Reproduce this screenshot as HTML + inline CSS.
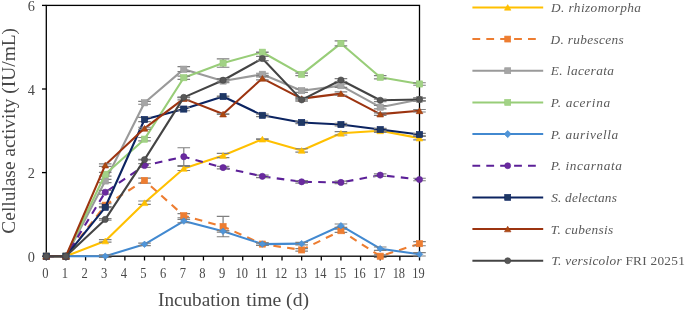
<!DOCTYPE html>
<html><head><meta charset="utf-8"><style>
html,body{margin:0;padding:0;background:#fff;}
body{width:685px;height:311px;overflow:hidden;}
svg{display:block;will-change:transform;}
text{font-family:"Liberation Serif",serif;}
</style></head><body>
<svg width="685" height="311" viewBox="0 0 685 311">
<rect width="685" height="311" fill="#fff"/>
<g stroke="#000" stroke-width="1.3" fill="none">
<rect x="46.30" y="5.4" width="373.20" height="250.80"/>
<line x1="42" y1="256.20" x2="46.30" y2="256.20"/>
<line x1="42" y1="172.60" x2="46.30" y2="172.60"/>
<line x1="42" y1="89.00" x2="46.30" y2="89.00"/>
<line x1="42" y1="5.40" x2="46.30" y2="5.40"/>
<line x1="46.30" y1="256.20" x2="46.30" y2="260.50"/>
<line x1="65.94" y1="256.20" x2="65.94" y2="260.50"/>
<line x1="85.58" y1="256.20" x2="85.58" y2="260.50"/>
<line x1="105.23" y1="256.20" x2="105.23" y2="260.50"/>
<line x1="124.87" y1="256.20" x2="124.87" y2="260.50"/>
<line x1="144.51" y1="256.20" x2="144.51" y2="260.50"/>
<line x1="164.15" y1="256.20" x2="164.15" y2="260.50"/>
<line x1="183.79" y1="256.20" x2="183.79" y2="260.50"/>
<line x1="203.44" y1="256.20" x2="203.44" y2="260.50"/>
<line x1="223.08" y1="256.20" x2="223.08" y2="260.50"/>
<line x1="242.72" y1="256.20" x2="242.72" y2="260.50"/>
<line x1="262.36" y1="256.20" x2="262.36" y2="260.50"/>
<line x1="282.01" y1="256.20" x2="282.01" y2="260.50"/>
<line x1="301.65" y1="256.20" x2="301.65" y2="260.50"/>
<line x1="321.29" y1="256.20" x2="321.29" y2="260.50"/>
<line x1="340.93" y1="256.20" x2="340.93" y2="260.50"/>
<line x1="360.57" y1="256.20" x2="360.57" y2="260.50"/>
<line x1="380.22" y1="256.20" x2="380.22" y2="260.50"/>
<line x1="399.86" y1="256.20" x2="399.86" y2="260.50"/>
<line x1="419.50" y1="256.20" x2="419.50" y2="260.50"/>
</g>
<g fill="#484848" font-size="14.3" text-anchor="middle">
<text x="45.30" y="278" textLength="6.3" lengthAdjust="spacingAndGlyphs">0</text>
<text x="64.94" y="278" textLength="6.3" lengthAdjust="spacingAndGlyphs">1</text>
<text x="84.58" y="278" textLength="6.3" lengthAdjust="spacingAndGlyphs">2</text>
<text x="104.23" y="278" textLength="6.3" lengthAdjust="spacingAndGlyphs">3</text>
<text x="123.87" y="278" textLength="6.3" lengthAdjust="spacingAndGlyphs">4</text>
<text x="143.51" y="278" textLength="6.3" lengthAdjust="spacingAndGlyphs">5</text>
<text x="163.15" y="278" textLength="6.3" lengthAdjust="spacingAndGlyphs">6</text>
<text x="182.79" y="278" textLength="6.3" lengthAdjust="spacingAndGlyphs">7</text>
<text x="202.44" y="278" textLength="6.3" lengthAdjust="spacingAndGlyphs">8</text>
<text x="222.08" y="278" textLength="6.3" lengthAdjust="spacingAndGlyphs">9</text>
<text x="241.72" y="278" textLength="12.4" lengthAdjust="spacingAndGlyphs">10</text>
<text x="261.36" y="278" textLength="12.4" lengthAdjust="spacingAndGlyphs">11</text>
<text x="281.01" y="278" textLength="12.4" lengthAdjust="spacingAndGlyphs">12</text>
<text x="300.65" y="278" textLength="12.4" lengthAdjust="spacingAndGlyphs">13</text>
<text x="320.29" y="278" textLength="12.4" lengthAdjust="spacingAndGlyphs">14</text>
<text x="339.93" y="278" textLength="12.4" lengthAdjust="spacingAndGlyphs">15</text>
<text x="359.57" y="278" textLength="12.4" lengthAdjust="spacingAndGlyphs">16</text>
<text x="379.22" y="278" textLength="12.4" lengthAdjust="spacingAndGlyphs">17</text>
<text x="398.86" y="278" textLength="12.4" lengthAdjust="spacingAndGlyphs">18</text>
<text x="418.50" y="278" textLength="12.4" lengthAdjust="spacingAndGlyphs">19</text>
</g>
<g fill="#484848" font-size="14.3" text-anchor="end">
<text x="35" y="261.80">0</text>
<text x="35" y="178.20">2</text>
<text x="35" y="94.60">4</text>
<text x="35" y="11.00">6</text>
</g>
<text x="158" y="306" font-size="19.2" fill="#484848">Incubation</text>
<text x="246.2" y="306" font-size="19.7" fill="#484848">time (d)</text>
<text transform="translate(15.3 130.8) rotate(-90)" font-size="19.4" fill="#484848" text-anchor="middle">Cellulase activity (IU/mL)</text>
<polyline points="46.30,256.20 65.94,256.20 105.23,240.94 144.51,202.70 183.79,168.42 223.08,155.46 262.36,139.16 301.65,150.45 340.93,133.31 380.22,130.80 419.50,138.12" fill="none" stroke="#FFC000" stroke-width="2.1" stroke-linejoin="round"/>
<path d="M105.23 239.69V242.20M98.93 239.69H111.53M98.93 242.20H111.53M144.51 201.02V204.37M138.21 201.02H150.81M138.21 204.37H150.81M183.79 166.33V170.51M177.49 166.33H190.09M177.49 170.51H190.09M223.08 153.37V157.55M216.78 153.37H229.38M216.78 157.55H229.38M262.36 138.95V139.37M256.06 138.95H268.66M256.06 139.37H268.66M301.65 148.77V152.12M295.35 148.77H307.95M295.35 152.12H307.95M340.93 131.64V134.98M334.63 131.64H347.23M334.63 134.98H347.23M380.22 129.13V132.47M373.92 129.13H386.52M373.92 132.47H386.52M419.50 136.44V139.79M413.20 136.44H425.80M413.20 139.79H425.80" stroke="#7F7F7F" stroke-width="1.2" fill="none"/>
<path d="M46.30 253.30L49.67 259.10L42.93 259.10Z" fill="#FFC000" stroke="#FFC000" stroke-width="0.6" stroke-linejoin="round"/>
<path d="M65.94 253.30L69.31 259.10L62.57 259.10Z" fill="#FFC000" stroke="#FFC000" stroke-width="0.6" stroke-linejoin="round"/>
<path d="M105.23 238.05L108.60 243.84L101.85 243.84Z" fill="#FFC000" stroke="#FFC000" stroke-width="0.6" stroke-linejoin="round"/>
<path d="M144.51 199.80L147.88 205.59L141.14 205.59Z" fill="#FFC000" stroke="#FFC000" stroke-width="0.6" stroke-linejoin="round"/>
<path d="M183.79 165.52L187.17 171.32L180.42 171.32Z" fill="#FFC000" stroke="#FFC000" stroke-width="0.6" stroke-linejoin="round"/>
<path d="M223.08 152.57L226.45 158.36L219.71 158.36Z" fill="#FFC000" stroke="#FFC000" stroke-width="0.6" stroke-linejoin="round"/>
<path d="M262.36 136.26L265.74 142.06L258.99 142.06Z" fill="#FFC000" stroke="#FFC000" stroke-width="0.6" stroke-linejoin="round"/>
<path d="M301.65 147.55L305.02 153.34L298.28 153.34Z" fill="#FFC000" stroke="#FFC000" stroke-width="0.6" stroke-linejoin="round"/>
<path d="M340.93 130.41L344.30 136.20L337.56 136.20Z" fill="#FFC000" stroke="#FFC000" stroke-width="0.6" stroke-linejoin="round"/>
<path d="M380.22 127.90L383.59 133.70L376.84 133.70Z" fill="#FFC000" stroke="#FFC000" stroke-width="0.6" stroke-linejoin="round"/>
<path d="M419.50 135.22L422.87 141.01L416.13 141.01Z" fill="#FFC000" stroke="#FFC000" stroke-width="0.6" stroke-linejoin="round"/>
<polyline points="46.30,256.20 65.94,256.20 105.23,205.20 144.51,180.54 183.79,215.65 223.08,226.52 262.36,244.08 301.65,249.93 340.93,230.70 380.22,256.20 419.50,243.66" fill="none" stroke="#ED7D31" stroke-width="2.1" stroke-linejoin="round" stroke-dasharray="7.6 6.3"/>
<path d="M105.23 203.74V206.67M98.93 203.74H111.53M98.93 206.67H111.53M144.51 178.03V183.05M138.21 178.03H150.81M138.21 183.05H150.81M183.79 213.56V217.74M177.49 213.56H190.09M177.49 217.74H190.09M223.08 216.28V236.76M216.78 216.28H229.38M216.78 236.76H229.38M262.36 242.82V245.33M256.06 242.82H268.66M256.06 245.33H268.66M301.65 248.68V251.18M295.35 248.68H307.95M295.35 251.18H307.95M340.93 229.03V232.37M334.63 229.03H347.23M334.63 232.37H347.23M380.22 254.95V257.45M373.92 254.95H386.52M373.92 257.45H386.52M419.50 241.57V245.75M413.20 241.57H425.80M413.20 245.75H425.80" stroke="#7F7F7F" stroke-width="1.2" fill="none"/>
<rect x="43.20" y="253.10" width="6.20" height="6.20" fill="#ED7D31" stroke="#ED7D31" stroke-width="0.6"/>
<rect x="62.84" y="253.10" width="6.20" height="6.20" fill="#ED7D31" stroke="#ED7D31" stroke-width="0.6"/>
<rect x="102.13" y="202.10" width="6.20" height="6.20" fill="#ED7D31" stroke="#ED7D31" stroke-width="0.6"/>
<rect x="141.41" y="177.44" width="6.20" height="6.20" fill="#ED7D31" stroke="#ED7D31" stroke-width="0.6"/>
<rect x="180.69" y="212.55" width="6.20" height="6.20" fill="#ED7D31" stroke="#ED7D31" stroke-width="0.6"/>
<rect x="219.98" y="223.42" width="6.20" height="6.20" fill="#ED7D31" stroke="#ED7D31" stroke-width="0.6"/>
<rect x="259.26" y="240.98" width="6.20" height="6.20" fill="#ED7D31" stroke="#ED7D31" stroke-width="0.6"/>
<rect x="298.55" y="246.83" width="6.20" height="6.20" fill="#ED7D31" stroke="#ED7D31" stroke-width="0.6"/>
<rect x="337.83" y="227.60" width="6.20" height="6.20" fill="#ED7D31" stroke="#ED7D31" stroke-width="0.6"/>
<rect x="377.12" y="253.10" width="6.20" height="6.20" fill="#ED7D31" stroke="#ED7D31" stroke-width="0.6"/>
<rect x="416.40" y="240.56" width="6.20" height="6.20" fill="#ED7D31" stroke="#ED7D31" stroke-width="0.6"/>
<polyline points="46.30,256.20 65.94,256.20 105.23,180.96 144.51,102.79 183.79,69.15 223.08,81.06 262.36,74.29 301.65,90.67 340.93,85.66 380.22,107.18 419.50,99.45" fill="none" stroke="#9A9A9A" stroke-width="2.1" stroke-linejoin="round"/>
<path d="M105.23 179.29V182.63M98.93 179.29H111.53M98.93 182.63H111.53M144.51 101.33V104.26M138.21 101.33H150.81M138.21 104.26H150.81M183.79 66.64V71.65M177.49 66.64H190.09M177.49 71.65H190.09M223.08 79.39V82.73M216.78 79.39H229.38M216.78 82.73H229.38M262.36 73.24V75.33M256.06 73.24H268.66M256.06 75.33H268.66M301.65 89.00V92.34M295.35 89.00H307.95M295.35 92.34H307.95M340.93 83.98V87.33M334.63 83.98H347.23M334.63 87.33H347.23M380.22 105.51V108.85M373.92 105.51H386.52M373.92 108.85H386.52M419.50 97.78V101.12M413.20 97.78H425.80M413.20 101.12H425.80" stroke="#7F7F7F" stroke-width="1.2" fill="none"/>
<rect x="43.20" y="253.10" width="6.20" height="6.20" fill="#A5A5A5" stroke="#9A9A9A" stroke-width="0.6"/>
<rect x="62.84" y="253.10" width="6.20" height="6.20" fill="#A5A5A5" stroke="#9A9A9A" stroke-width="0.6"/>
<rect x="102.13" y="177.86" width="6.20" height="6.20" fill="#A5A5A5" stroke="#9A9A9A" stroke-width="0.6"/>
<rect x="141.41" y="99.69" width="6.20" height="6.20" fill="#A5A5A5" stroke="#9A9A9A" stroke-width="0.6"/>
<rect x="180.69" y="66.05" width="6.20" height="6.20" fill="#A5A5A5" stroke="#9A9A9A" stroke-width="0.6"/>
<rect x="219.98" y="77.96" width="6.20" height="6.20" fill="#A5A5A5" stroke="#9A9A9A" stroke-width="0.6"/>
<rect x="259.26" y="71.19" width="6.20" height="6.20" fill="#A5A5A5" stroke="#9A9A9A" stroke-width="0.6"/>
<rect x="298.55" y="87.57" width="6.20" height="6.20" fill="#A5A5A5" stroke="#9A9A9A" stroke-width="0.6"/>
<rect x="337.83" y="82.56" width="6.20" height="6.20" fill="#A5A5A5" stroke="#9A9A9A" stroke-width="0.6"/>
<rect x="377.12" y="104.08" width="6.20" height="6.20" fill="#A5A5A5" stroke="#9A9A9A" stroke-width="0.6"/>
<rect x="416.40" y="96.35" width="6.20" height="6.20" fill="#A5A5A5" stroke="#9A9A9A" stroke-width="0.6"/>
<polyline points="46.30,256.20 65.94,256.20 105.23,174.27 144.51,139.16 183.79,77.71 223.08,63.08 262.36,52.22 301.65,74.37 340.93,43.44 380.22,77.30 419.50,83.98" fill="none" stroke="#98CD78" stroke-width="2.1" stroke-linejoin="round"/>
<path d="M105.23 172.39V176.15M98.93 172.39H111.53M98.93 176.15H111.53M144.51 137.49V140.83M138.21 137.49H150.81M138.21 140.83H150.81M183.79 76.04V79.39M177.49 76.04H190.09M177.49 79.39H190.09M223.08 58.90V67.26M216.78 58.90H229.38M216.78 67.26H229.38M262.36 52.01V52.43M256.06 52.01H268.66M256.06 52.43H268.66M301.65 73.12V75.62M295.35 73.12H307.95M295.35 75.62H307.95M340.93 40.93V45.95M334.63 40.93H347.23M334.63 45.95H347.23M380.22 75.62V78.97M373.92 75.62H386.52M373.92 78.97H386.52M419.50 82.73V85.24M413.20 82.73H425.80M413.20 85.24H425.80" stroke="#7F7F7F" stroke-width="1.2" fill="none"/>
<rect x="43.20" y="253.10" width="6.20" height="6.20" fill="#A2D286" stroke="#98CD78" stroke-width="0.6"/>
<rect x="62.84" y="253.10" width="6.20" height="6.20" fill="#A2D286" stroke="#98CD78" stroke-width="0.6"/>
<rect x="102.13" y="171.17" width="6.20" height="6.20" fill="#A2D286" stroke="#98CD78" stroke-width="0.6"/>
<rect x="141.41" y="136.06" width="6.20" height="6.20" fill="#A2D286" stroke="#98CD78" stroke-width="0.6"/>
<rect x="180.69" y="74.61" width="6.20" height="6.20" fill="#A2D286" stroke="#98CD78" stroke-width="0.6"/>
<rect x="219.98" y="59.98" width="6.20" height="6.20" fill="#A2D286" stroke="#98CD78" stroke-width="0.6"/>
<rect x="259.26" y="49.12" width="6.20" height="6.20" fill="#A2D286" stroke="#98CD78" stroke-width="0.6"/>
<rect x="298.55" y="71.27" width="6.20" height="6.20" fill="#A2D286" stroke="#98CD78" stroke-width="0.6"/>
<rect x="337.83" y="40.34" width="6.20" height="6.20" fill="#A2D286" stroke="#98CD78" stroke-width="0.6"/>
<rect x="377.12" y="74.20" width="6.20" height="6.20" fill="#A2D286" stroke="#98CD78" stroke-width="0.6"/>
<rect x="416.40" y="80.88" width="6.20" height="6.20" fill="#A2D286" stroke="#98CD78" stroke-width="0.6"/>
<polyline points="46.30,256.20 65.94,256.20 105.23,256.20 144.51,244.29 183.79,221.09 223.08,231.33 262.36,244.08 301.65,243.66 340.93,225.69 380.22,248.68 419.50,254.32" fill="none" stroke="#4289D0" stroke-width="2.1" stroke-linejoin="round"/>
<path d="M105.23 254.95V257.45M98.93 254.95H111.53M98.93 257.45H111.53M144.51 243.03V245.54M138.21 243.03H150.81M138.21 245.54H150.81M183.79 219.42V222.76M177.49 219.42H190.09M177.49 222.76H190.09M223.08 230.49V232.16M216.78 230.49H229.38M216.78 232.16H229.38M262.36 242.82V245.33M256.06 242.82H268.66M256.06 245.33H268.66M301.65 242.41V244.91M295.35 242.41H307.95M295.35 244.91H307.95M340.93 224.01V227.36M334.63 224.01H347.23M334.63 227.36H347.23M380.22 247.00V250.35M373.92 247.00H386.52M373.92 250.35H386.52M419.50 252.65V255.99M413.20 252.65H425.80M413.20 255.99H425.80" stroke="#7F7F7F" stroke-width="1.2" fill="none"/>
<path d="M46.30 252.93L49.57 256.20L46.30 259.47L43.03 256.20Z" fill="#5095D8" stroke="#4289D0" stroke-width="0.6"/>
<path d="M65.94 252.93L69.21 256.20L65.94 259.47L62.67 256.20Z" fill="#5095D8" stroke="#4289D0" stroke-width="0.6"/>
<path d="M105.23 252.93L108.50 256.20L105.23 259.47L101.96 256.20Z" fill="#5095D8" stroke="#4289D0" stroke-width="0.6"/>
<path d="M144.51 241.02L147.78 244.29L144.51 247.56L141.24 244.29Z" fill="#5095D8" stroke="#4289D0" stroke-width="0.6"/>
<path d="M183.79 217.82L187.06 221.09L183.79 224.36L180.52 221.09Z" fill="#5095D8" stroke="#4289D0" stroke-width="0.6"/>
<path d="M223.08 228.06L226.35 231.33L223.08 234.60L219.81 231.33Z" fill="#5095D8" stroke="#4289D0" stroke-width="0.6"/>
<path d="M262.36 240.81L265.63 244.08L262.36 247.35L259.09 244.08Z" fill="#5095D8" stroke="#4289D0" stroke-width="0.6"/>
<path d="M301.65 240.39L304.92 243.66L301.65 246.93L298.38 243.66Z" fill="#5095D8" stroke="#4289D0" stroke-width="0.6"/>
<path d="M340.93 222.42L344.20 225.69L340.93 228.96L337.66 225.69Z" fill="#5095D8" stroke="#4289D0" stroke-width="0.6"/>
<path d="M380.22 245.41L383.49 248.68L380.22 251.95L376.95 248.68Z" fill="#5095D8" stroke="#4289D0" stroke-width="0.6"/>
<path d="M419.50 251.05L422.77 254.32L419.50 257.59L416.23 254.32Z" fill="#5095D8" stroke="#4289D0" stroke-width="0.6"/>
<polyline points="46.30,256.20 65.94,256.20 105.23,192.25 144.51,165.49 183.79,156.72 223.08,167.58 262.36,176.36 301.65,181.80 340.93,182.42 380.22,175.11 419.50,179.50" fill="none" stroke="#5C2098" stroke-width="2.1" stroke-linejoin="round" stroke-dasharray="7.6 6.3"/>
<path d="M105.23 190.37V194.13M98.93 190.37H111.53M98.93 194.13H111.53M144.51 163.61V167.38M138.21 163.61H150.81M138.21 167.38H150.81M183.79 147.73V165.70M177.49 147.73H190.09M177.49 165.70H190.09M223.08 166.33V168.84M216.78 166.33H229.38M216.78 168.84H229.38M262.36 175.11V177.62M256.06 175.11H268.66M256.06 177.62H268.66M301.65 180.54V183.05M295.35 180.54H307.95M295.35 183.05H307.95M340.93 181.17V183.68M334.63 181.17H347.23M334.63 183.68H347.23M380.22 173.85V176.36M373.92 173.85H386.52M373.92 176.36H386.52M419.50 178.24V180.75M413.20 178.24H425.80M413.20 180.75H425.80" stroke="#7F7F7F" stroke-width="1.2" fill="none"/>
<circle cx="46.30" cy="256.20" r="3.10" fill="#6A2A9E" stroke="#5C2098" stroke-width="0.6"/>
<circle cx="65.94" cy="256.20" r="3.10" fill="#6A2A9E" stroke="#5C2098" stroke-width="0.6"/>
<circle cx="105.23" cy="192.25" r="3.10" fill="#6A2A9E" stroke="#5C2098" stroke-width="0.6"/>
<circle cx="144.51" cy="165.49" r="3.10" fill="#6A2A9E" stroke="#5C2098" stroke-width="0.6"/>
<circle cx="183.79" cy="156.72" r="3.10" fill="#6A2A9E" stroke="#5C2098" stroke-width="0.6"/>
<circle cx="223.08" cy="167.58" r="3.10" fill="#6A2A9E" stroke="#5C2098" stroke-width="0.6"/>
<circle cx="262.36" cy="176.36" r="3.10" fill="#6A2A9E" stroke="#5C2098" stroke-width="0.6"/>
<circle cx="301.65" cy="181.80" r="3.10" fill="#6A2A9E" stroke="#5C2098" stroke-width="0.6"/>
<circle cx="340.93" cy="182.42" r="3.10" fill="#6A2A9E" stroke="#5C2098" stroke-width="0.6"/>
<circle cx="380.22" cy="175.11" r="3.10" fill="#6A2A9E" stroke="#5C2098" stroke-width="0.6"/>
<circle cx="419.50" cy="179.50" r="3.10" fill="#6A2A9E" stroke="#5C2098" stroke-width="0.6"/>
<polyline points="46.30,256.20 65.94,256.20 105.23,207.29 144.51,119.51 183.79,109.06 223.08,96.52 262.36,115.33 301.65,122.44 340.93,124.53 380.22,129.55 419.50,134.56" fill="none" stroke="#0C2461" stroke-width="2.1" stroke-linejoin="round"/>
<path d="M105.23 206.88V207.71M98.93 206.88H111.53M98.93 207.71H111.53M144.51 117.42V121.60M138.21 117.42H150.81M138.21 121.60H150.81M183.79 107.39V110.74M177.49 107.39H190.09M177.49 110.74H190.09M223.08 96.11V96.94M216.78 96.11H229.38M216.78 96.94H229.38M262.36 114.08V116.59M256.06 114.08H268.66M256.06 116.59H268.66M301.65 121.19V123.69M295.35 121.19H307.95M295.35 123.69H307.95M340.93 123.28V125.78M334.63 123.28H347.23M334.63 125.78H347.23M380.22 128.29V130.80M373.92 128.29H386.52M373.92 130.80H386.52M419.50 133.31V135.82M413.20 133.31H425.80M413.20 135.82H425.80" stroke="#7F7F7F" stroke-width="1.2" fill="none"/>
<rect x="43.20" y="253.10" width="6.20" height="6.20" fill="#1F3864" stroke="#0C2461" stroke-width="0.6"/>
<rect x="62.84" y="253.10" width="6.20" height="6.20" fill="#1F3864" stroke="#0C2461" stroke-width="0.6"/>
<rect x="102.13" y="204.19" width="6.20" height="6.20" fill="#1F3864" stroke="#0C2461" stroke-width="0.6"/>
<rect x="141.41" y="116.41" width="6.20" height="6.20" fill="#1F3864" stroke="#0C2461" stroke-width="0.6"/>
<rect x="180.69" y="105.96" width="6.20" height="6.20" fill="#1F3864" stroke="#0C2461" stroke-width="0.6"/>
<rect x="219.98" y="93.42" width="6.20" height="6.20" fill="#1F3864" stroke="#0C2461" stroke-width="0.6"/>
<rect x="259.26" y="112.23" width="6.20" height="6.20" fill="#1F3864" stroke="#0C2461" stroke-width="0.6"/>
<rect x="298.55" y="119.34" width="6.20" height="6.20" fill="#1F3864" stroke="#0C2461" stroke-width="0.6"/>
<rect x="337.83" y="121.43" width="6.20" height="6.20" fill="#1F3864" stroke="#0C2461" stroke-width="0.6"/>
<rect x="377.12" y="126.45" width="6.20" height="6.20" fill="#1F3864" stroke="#0C2461" stroke-width="0.6"/>
<rect x="416.40" y="131.46" width="6.20" height="6.20" fill="#1F3864" stroke="#0C2461" stroke-width="0.6"/>
<polyline points="46.30,256.20 65.94,256.20 105.23,165.08 144.51,128.29 183.79,98.61 223.08,114.08 262.36,78.34 301.65,98.61 340.93,93.60 380.22,114.08 419.50,110.74" fill="none" stroke="#9C3410" stroke-width="2.1" stroke-linejoin="round"/>
<path d="M105.23 163.82V166.33M98.93 163.82H111.53M98.93 166.33H111.53M144.51 127.25V129.34M138.21 127.25H150.81M138.21 129.34H150.81M183.79 97.36V99.87M177.49 97.36H190.09M177.49 99.87H190.09M223.08 113.87V114.29M216.78 113.87H229.38M216.78 114.29H229.38M262.36 76.88V79.80M256.06 76.88H268.66M256.06 79.80H268.66M301.65 97.36V99.87M295.35 97.36H307.95M295.35 99.87H307.95M340.93 91.93V95.27M334.63 91.93H347.23M334.63 95.27H347.23M380.22 112.83V115.33M373.92 112.83H386.52M373.92 115.33H386.52M419.50 109.48V111.99M413.20 109.48H425.80M413.20 111.99H425.80" stroke="#7F7F7F" stroke-width="1.2" fill="none"/>
<path d="M46.30 253.30L49.67 259.10L42.93 259.10Z" fill="#AE4A0E" stroke="#9C3410" stroke-width="0.6" stroke-linejoin="round"/>
<path d="M65.94 253.30L69.31 259.10L62.57 259.10Z" fill="#AE4A0E" stroke="#9C3410" stroke-width="0.6" stroke-linejoin="round"/>
<path d="M105.23 162.18L108.60 167.97L101.85 167.97Z" fill="#AE4A0E" stroke="#9C3410" stroke-width="0.6" stroke-linejoin="round"/>
<path d="M144.51 125.40L147.88 131.19L141.14 131.19Z" fill="#AE4A0E" stroke="#9C3410" stroke-width="0.6" stroke-linejoin="round"/>
<path d="M183.79 95.72L187.17 101.51L180.42 101.51Z" fill="#AE4A0E" stroke="#9C3410" stroke-width="0.6" stroke-linejoin="round"/>
<path d="M223.08 111.18L226.45 116.98L219.71 116.98Z" fill="#AE4A0E" stroke="#9C3410" stroke-width="0.6" stroke-linejoin="round"/>
<path d="M262.36 75.45L265.74 81.24L258.99 81.24Z" fill="#AE4A0E" stroke="#9C3410" stroke-width="0.6" stroke-linejoin="round"/>
<path d="M301.65 95.72L305.02 101.51L298.28 101.51Z" fill="#AE4A0E" stroke="#9C3410" stroke-width="0.6" stroke-linejoin="round"/>
<path d="M340.93 90.70L344.30 96.49L337.56 96.49Z" fill="#AE4A0E" stroke="#9C3410" stroke-width="0.6" stroke-linejoin="round"/>
<path d="M380.22 111.18L383.59 116.98L376.84 116.98Z" fill="#AE4A0E" stroke="#9C3410" stroke-width="0.6" stroke-linejoin="round"/>
<path d="M419.50 107.84L422.87 113.63L416.13 113.63Z" fill="#AE4A0E" stroke="#9C3410" stroke-width="0.6" stroke-linejoin="round"/>
<polyline points="46.30,256.20 65.94,256.20 105.23,219.42 144.51,159.64 183.79,97.36 223.08,80.22 262.36,58.49 301.65,99.87 340.93,80.01 380.22,100.29 419.50,99.45" fill="none" stroke="#444444" stroke-width="2.1" stroke-linejoin="round"/>
<path d="M105.23 218.58V220.25M98.93 218.58H111.53M98.93 220.25H111.53M144.51 159.43V159.85M138.21 159.43H150.81M138.21 159.85H150.81M183.79 97.15V97.57M177.49 97.15H190.09M177.49 97.57H190.09M223.08 78.55V81.89M216.78 78.55H229.38M216.78 81.89H229.38M262.36 56.40V60.58M256.06 56.40H268.66M256.06 60.58H268.66M301.65 98.61V101.12M295.35 98.61H307.95M295.35 101.12H307.95M340.93 78.55V81.48M334.63 78.55H347.23M334.63 81.48H347.23M380.22 99.03V101.54M373.92 99.03H386.52M373.92 101.54H386.52M419.50 98.20V100.70M413.20 98.20H425.80M413.20 100.70H425.80" stroke="#7F7F7F" stroke-width="1.2" fill="none"/>
<circle cx="46.30" cy="256.20" r="3.10" fill="#575757" stroke="#444444" stroke-width="0.6"/>
<circle cx="65.94" cy="256.20" r="3.10" fill="#575757" stroke="#444444" stroke-width="0.6"/>
<circle cx="105.23" cy="219.42" r="3.10" fill="#575757" stroke="#444444" stroke-width="0.6"/>
<circle cx="144.51" cy="159.64" r="3.10" fill="#575757" stroke="#444444" stroke-width="0.6"/>
<circle cx="183.79" cy="97.36" r="3.10" fill="#575757" stroke="#444444" stroke-width="0.6"/>
<circle cx="223.08" cy="80.22" r="3.10" fill="#575757" stroke="#444444" stroke-width="0.6"/>
<circle cx="262.36" cy="58.49" r="3.10" fill="#575757" stroke="#444444" stroke-width="0.6"/>
<circle cx="301.65" cy="99.87" r="3.10" fill="#575757" stroke="#444444" stroke-width="0.6"/>
<circle cx="340.93" cy="80.01" r="3.10" fill="#575757" stroke="#444444" stroke-width="0.6"/>
<circle cx="380.22" cy="100.29" r="3.10" fill="#575757" stroke="#444444" stroke-width="0.6"/>
<circle cx="419.50" cy="99.45" r="3.10" fill="#575757" stroke="#444444" stroke-width="0.6"/>
<line x1="472.4" y1="7.40" x2="543.2" y2="7.40" stroke="#FFC000" stroke-width="2"/>
<path d="M507.70 4.60L510.96 10.20L504.44 10.20Z" fill="#FFC000" stroke="#FFC000" stroke-width="0.6" stroke-linejoin="round"/>
<text x="551.10" y="12.10" font-size="13.3" fill="#595959" font-style="italic" textLength="89.90">D. rhizomorpha</text>
<line x1="472.4" y1="39.06" x2="540" y2="39.06" stroke="#ED7D31" stroke-width="2" stroke-dasharray="7.8 6.1"/>
<rect x="504.70" y="36.06" width="6.00" height="6.00" fill="#ED7D31" stroke="#ED7D31" stroke-width="0.6"/>
<text x="550.50" y="43.76" font-size="13.3" fill="#595959" font-style="italic" textLength="73.20">D. rubescens</text>
<line x1="472.4" y1="70.72" x2="543.2" y2="70.72" stroke="#9A9A9A" stroke-width="2"/>
<rect x="504.70" y="67.72" width="6.00" height="6.00" fill="#A5A5A5" stroke="#9A9A9A" stroke-width="0.6"/>
<text x="550.80" y="75.42" font-size="13.3" fill="#595959" font-style="italic" textLength="63.20">E. lacerata</text>
<line x1="472.4" y1="102.39" x2="543.2" y2="102.39" stroke="#98CD78" stroke-width="2"/>
<rect x="504.70" y="99.39" width="6.00" height="6.00" fill="#A2D286" stroke="#98CD78" stroke-width="0.6"/>
<text x="550.80" y="107.09" font-size="13.3" fill="#595959" font-style="italic" textLength="59.30">P. acerina</text>
<line x1="472.4" y1="134.05" x2="543.2" y2="134.05" stroke="#4289D0" stroke-width="2"/>
<path d="M507.70 130.46L511.28 134.05L507.70 137.63L504.12 134.05Z" fill="#5095D8" stroke="#4289D0" stroke-width="0.6"/>
<text x="550.80" y="138.75" font-size="13.3" fill="#595959" font-style="italic" textLength="67.30">P. aurivella</text>
<line x1="472.4" y1="165.71" x2="540" y2="165.71" stroke="#5C2098" stroke-width="2" stroke-dasharray="7.8 6.1"/>
<circle cx="507.70" cy="165.71" r="3.00" fill="#6A2A9E" stroke="#5C2098" stroke-width="0.6"/>
<text x="550.80" y="170.41" font-size="13.3" fill="#595959" font-style="italic" textLength="71.00">P. incarnata</text>
<line x1="472.4" y1="197.38" x2="543.2" y2="197.38" stroke="#0C2461" stroke-width="2"/>
<rect x="504.70" y="194.38" width="6.00" height="6.00" fill="#1F3864" stroke="#0C2461" stroke-width="0.6"/>
<text x="551.20" y="202.07" font-size="13.3" fill="#595959" font-style="italic" textLength="65.70">S. delectans</text>
<line x1="472.4" y1="229.04" x2="543.2" y2="229.04" stroke="#9C3410" stroke-width="2"/>
<path d="M507.70 226.24L510.96 231.84L504.44 231.84Z" fill="#AE4A0E" stroke="#9C3410" stroke-width="0.6" stroke-linejoin="round"/>
<text x="550.80" y="233.74" font-size="13.3" fill="#595959" font-style="italic" textLength="62.40">T. cubensis</text>
<line x1="472.4" y1="260.70" x2="543.2" y2="260.70" stroke="#444444" stroke-width="2"/>
<circle cx="507.70" cy="260.70" r="3.00" fill="#575757" stroke="#444444" stroke-width="0.6"/>
<text x="551.40" y="265.40" font-size="13.3" fill="#595959" textLength="133.40"><tspan font-style="italic">T. versicolor</tspan> FRI 20251</text>
</svg></body></html>
